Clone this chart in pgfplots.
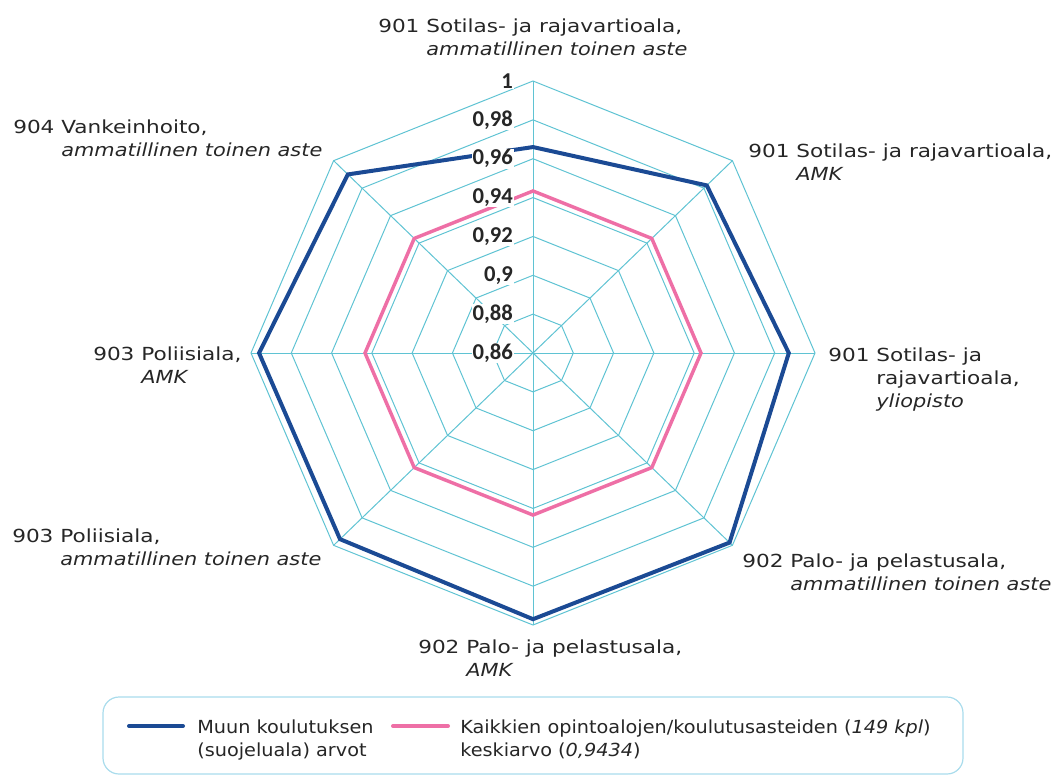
\documentclass[border=0pt]{standalone}
\usepackage{pgfplots}
\pgfplotsset{compat=1.18}
\usepackage{pgfplotstable}
\usepackage{fontspec}
\setmainfont{DejaVu Sans}[FakeStretch=1.07]
\newfontfamily\labfont{DejaVu Sans}[FakeStretch=1.2, ItalicFeatures={FakeStretch=1.16}]
\newfontfamily\tickfont{Carlito}
\definecolor{txt}{HTML}{262626}
\definecolor{navy}{HTML}{1B4A94}
\definecolor{pinkl}{HTML}{EE6FA6}
\definecolor{gridc}{HTML}{5FC3D3}
\definecolor{legb}{HTML}{A9DCEC}

\pgfplotstableread{
a v
90 0.966
45 0.982
0 0.987
-45 0.998
-90 0.997
-135 0.9955
180 0.996
135 0.990
}\muun
\pgfplotstableread{
a v
90 0.9434
45 0.9434
0 0.9434
-45 0.9434
-90 0.9434
-135 0.9434
180 0.9434
135 0.9434
}\avg

\newcommand\lab[2]{#1 \begin{tabular}[t]{@{}l@{}}#2\end{tabular}}

\begin{document}
\begin{tikzpicture}
\useasboundingbox (0,0) rectangle (792pt,-582pt);
\begin{axis}[at={(399.75pt,-264.75pt)}, anchor=center, scale only axis,
  width=423pt, height=408pt, xmin=-0.14, xmax=0.14, ymin=-0.14, ymax=0.14,
  hide axis, clip=false]
\pgfplotsinvokeforeach{0.02,0.04,0.06,0.08,0.10,0.12,0.14}{
  \addplot[data cs=polar, gridc, line width=0.75pt, no markers, line join=miter]
    coordinates {(90,#1)(45,#1)(0,#1)(-45,#1)(-90,#1)(-135,#1)(180,#1)(135,#1)} -- cycle;
}
\addplot[data cs=polar, gridc, line width=0.75pt, no markers] coordinates {(90,0.14)(270,0.14)};
\addplot[data cs=polar, gridc, line width=0.75pt, no markers] coordinates {(45,0.14)(225,0.14)};
\addplot[data cs=polar, gridc, line width=0.75pt, no markers] coordinates {(0,0.14)(180,0.14)};
\addplot[data cs=polar, gridc, line width=0.75pt, no markers] coordinates {(135,0.14)(315,0.14)};
\addplot[data cs=polar, pinkl, line width=2.6pt, line join=miter, no markers]
  table[x=a, y expr=\thisrow{v}-0.86]{\avg} -- cycle;
\addplot[data cs=polar, navy, line width=3pt, line join=miter, no markers]
  table[x=a, y expr=\thisrow{v}-0.86]{\muun} -- cycle;
\end{axis}

\begin{scope}[x=0.75pt, y=-0.75pt]
% radial tick labels
\foreach \yy/\tl in {353/{0,86}, 314.1/{0,88}, 275.3/{0,9}, 236.4/{0,92}, 197.6/{0,94}, 158.7/{0,96}, 119.9/{0,98}, 81/{1}}{
  \node[anchor=east, inner sep=0.6pt, fill=white, text=txt, font=\tickfont\bfseries\fontsize{17pt}{18pt}\selectfont] at (514,\yy) {\tl};
}
% category labels
\begin{scope}[every node/.style={anchor=base west, inner sep=0pt, text=txt, font=\labfont\fontsize{13.5pt}{17.6pt}\selectfont}]
\node at (378,32) {\lab{901}{Sotilas- ja rajavartioala,\\\textit{ammatillinen toinen aste}}};
\node at (748,157) {\lab{901}{Sotilas- ja rajavartioala,\\\textit{AMK}}};
\node at (828,361) {\lab{901}{Sotilas- ja\\rajavartioala,\\\textit{yliopisto}}};
\node at (742,567) {\lab{902}{Palo- ja pelastusala,\\\textit{ammatillinen toinen aste}}};
\node at (418,653) {\lab{902}{Palo- ja pelastusala,\\\textit{AMK}}};
\node at (12,542) {\lab{903}{Poliisiala,\\\textit{ammatillinen toinen aste}}};
\node at (93,360) {\lab{903}{Poliisiala,\\\textit{AMK}}};
\node at (13,133) {\lab{904}{Vankeinhoito,\\\textit{ammatillinen toinen aste}}};
\end{scope}
% legend
\begin{scope}[every node/.style={anchor=base west, inner sep=0pt, text=txt, font=\fontsize{13.5pt}{17.6pt}\selectfont}]
\draw[legb, line width=0.9pt, rounded corners=12pt] (103,697) rectangle (963,774);
\draw[navy, line width=3pt, line cap=round] (129,726) -- (183,726);
\draw[pinkl, line width=3pt, line cap=round] (393,726) -- (448,726);
\node at (197,733) {\begin{tabular}[t]{@{}l@{}}Muun koulutuksen\\(suojeluala) arvot\end{tabular}};
\node at (460,733) {\begin{tabular}[t]{@{}l@{}}Kaikkien opintoalojen/koulutusasteiden (\textit{149 kpl})\\keskiarvo (\textit{0,9434})\end{tabular}};
\end{scope}
\end{scope}
\end{tikzpicture}
\end{document}
